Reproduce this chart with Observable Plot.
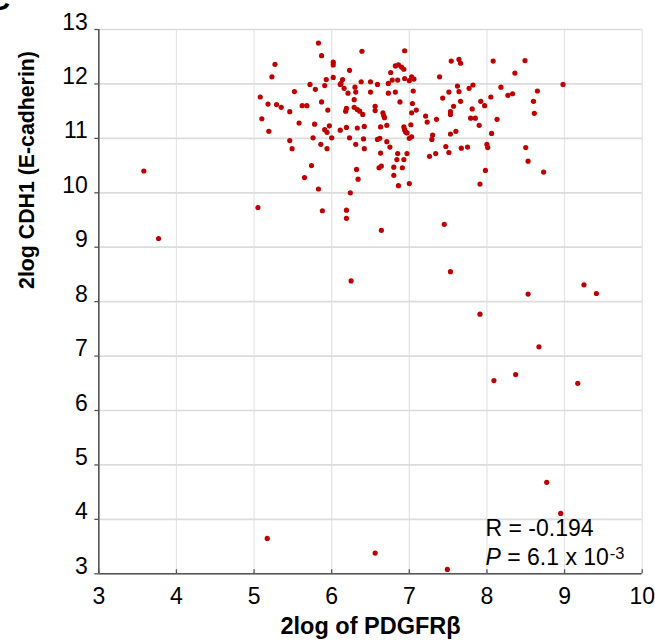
<!DOCTYPE html>
<html><head><meta charset="utf-8">
<script src="https://cdn.jsdelivr.net/npm/d3@7"></script>
<script src="https://cdn.jsdelivr.net/npm/@observablehq/plot@0.6"></script>
<style>
body{margin:0;background:#fff;}
#chart{width:655px;height:641px;overflow:hidden;}
</style></head><body>
<div id="chart"></div>
<script>
// PDGFRβ (x) and CDH1 (y), 2log values
const pdgfrb = [5.83,5.87,5.27,5.23,6.02,6.02,6.23,6.39,6.02,5.93,5.72,5.91,6.14,6.12,6.11,6.16,6.30,6.38,6.50,6.59,
5.79,5.52,6.21,6.31,6.50,5.08,6.29,5.87,5.18,5.29,5.35,5.62,5.68,5.95,5.46,6.19,6.18,6.29,6.33,6.36,
6.40,6.56,6.56,5.10,5.58,5.78,5.97,5.19,5.91,5.94,6.11,6.19,6.33,6.42,5.76,6.00,6.23,6.41,6.59,5.46,
5.49,5.86,5.94,6.31,6.42,5.74,5.65,6.32,6.34,5.83,6.24,6.61,6.63,6.94,6.82,6.86,6.90,6.93,6.76,6.73,
6.78,6.85,6.94,7.00,7.03,7.06,6.73,6.82,7.05,6.88,6.66,6.67,6.68,7.04,7.03,7.09,7.02,6.63,6.71,6.93,
6.94,6.95,6.97,7.00,7.03,6.62,6.71,6.75,6.85,6.97,6.84,6.93,6.64,6.80,6.91,6.80,6.86,7.00,7.21,7.23,
7.35,7.39,7.30,7.29,7.26,7.34,7.47,7.51,7.43,7.51,7.54,7.64,7.66,7.62,7.64,7.57,7.53,7.53,7.66,7.53,
7.60,7.77,7.82,7.81,7.79,7.85,7.90,7.92,7.97,7.67,7.75,8.00,8.01,7.98,7.91,8.08,8.05,8.06,8.13,8.18,
8.27,8.49,8.36,8.33,8.65,8.60,8.61,8.98,8.50,8.53,8.73,3.58,3.77,5.05,5.17,5.88,6.19,6.19,6.64,7.45,
6.25,7.53,8.53,9.25,9.41,7.91,8.67,8.37,8.09,9.17,8.77,8.95,6.56,7.49];
const cdh1 = [12.75,12.52,12.36,12.13,12.40,12.35,12.25,12.60,12.12,12.08,11.99,11.97,12.08,12.01,11.99,11.92,11.94,12.04,12.04,11.99,
11.90,11.86,11.83,11.85,11.85,11.76,11.71,11.67,11.63,11.62,11.57,11.60,11.60,11.52,11.49,11.55,11.50,11.57,11.53,11.50,
11.44,11.59,11.51,11.36,11.28,11.26,11.23,11.13,11.16,11.11,11.15,11.20,11.19,11.22,11.01,11.01,11.01,10.99,10.98,10.96,
10.81,10.89,10.81,10.89,10.81,10.50,10.28,10.43,10.25,10.07,10.00,10.46,10.73,12.61,12.33,12.35,12.31,12.27,12.21,12.01,
12.07,12.07,12.10,12.06,12.13,12.09,11.83,11.85,11.87,11.67,11.47,11.42,11.38,11.64,11.47,11.52,11.25,11.21,11.24,11.21,
11.16,11.12,11.10,11.00,11.03,11.00,10.94,10.84,10.72,10.72,10.61,10.61,10.49,10.47,10.46,10.32,10.13,10.17,11.41,11.30,
11.35,12.13,11.06,10.98,10.67,10.72,10.85,10.74,11.74,11.85,12.42,12.45,12.38,11.96,11.86,11.59,11.49,11.44,11.68,11.08,
11.13,11.92,11.98,11.54,11.37,11.37,11.24,11.68,11.60,10.82,10.84,10.89,10.83,10.41,10.16,12.42,11.76,11.09,11.35,11.94,
11.79,12.43,12.20,11.82,11.87,11.68,11.46,11.99,10.83,10.58,10.38,10.40,9.16,9.73,3.65,9.67,9.68,9.53,9.31,9.42,
8.38,8.55,8.14,8.31,8.15,7.77,7.17,6.66,6.55,6.50,4.68,4.11,3.38,3.08];

const xTicks = [3,4,5,6,7,8,9,10];
const yTicks = [3,4,5,6,7,8,9,10,11,12,13];
const xLabel = "2log of PDGFRβ";
const yLabel = "2log CDH1 (E-cadherin)";
const statR = "R = -0.194";
const statPSymbol = "P";
const statPValue = " = 6.1 x 10";
const statPExponent = "-3";
const panelLabel = "C";

const points = pdgfrb.map((x, i) => ({x, y: cdh1[i]}));

const W = 655, H = 641, mL = 98.3, mR = 13.3, mT = 29, mB = 67.7;
const fw = W - mL - mR, fh = H - mT - mB;
const font = '"Liberation Sans", Arial, Helvetica, sans-serif';

const chart = Plot.plot({
  width: W, height: H,
  marginLeft: mL, marginRight: mR, marginTop: mT, marginBottom: mB,
  x: {type: "linear", domain: [3, 10], axis: null},
  y: {type: "linear", domain: [3, 13], axis: null},
  style: {fontFamily: font, fontSize: "23px", background: "#fff", color: "#000", overflow: "visible"},
  marks: [
    Plot.ruleX(xTicks, {x: d => d, stroke: "#e4e4e4", strokeWidth: 1.2}),
    Plot.ruleY(yTicks, {y: d => d, stroke: "#dcdcdc", strokeWidth: 1.7}),
    Plot.ruleX(xTicks, {x: d => d, stroke: "#555", strokeWidth: 1.3, insetTop: fh - 4}),
    Plot.ruleY(yTicks, {y: d => d, stroke: "#555", strokeWidth: 1.3, insetLeft: -4, insetRight: fw}),
    Plot.ruleX([3], {x: d => d, stroke: "#555", strokeWidth: 1.6}),
    Plot.ruleY([3], {y: d => d, stroke: "#555", strokeWidth: 1.6}),
    Plot.dot(points, {x: "x", y: "y", r: 2.6, fill: "#c00000", stroke: "none"}),
    Plot.text(xTicks, {x: d => d, text: d => String(d), frameAnchor: "bottom", lineAnchor: "top", dy: 13.4, fontSize: 23, fill: "#000"}),
    Plot.text(yTicks, {y: d => d, text: d => String(d), frameAnchor: "left", textAnchor: "end", dx: -11, dy: -7.3, fontSize: 23, fill: "#000"}),
    Plot.text([xLabel], {text: d => d, frameAnchor: "bottom", lineAnchor: "bottom", dy: 60, fontSize: 23.5, fontWeight: "bold", fill: "#000"}),
    Plot.text([yLabel], {text: d => d, frameAnchor: "left", rotate: -90, lineAnchor: "bottom", dx: -65, dy: -12.7, fontSize: 21.3, fontWeight: "bold", fill: "#000"}),
    Plot.text([statR], {text: d => d, frameAnchor: "bottom-left", textAnchor: "start", lineAnchor: "bottom", dx: 386.7, dy: -38.3, fontSize: 23, fill: "#000"}),
    Plot.text([statPSymbol], {text: d => d, frameAnchor: "bottom-left", textAnchor: "start", lineAnchor: "bottom", dx: 386.7, dy: -9.3, fontSize: 23, fontStyle: "italic", fill: "#000"}),
    Plot.text([statPValue], {text: d => d, frameAnchor: "bottom-left", textAnchor: "start", lineAnchor: "bottom", dx: 402, dy: -9.3, fontSize: 23, fill: "#000"}),
    Plot.text([statPExponent], {text: d => d, frameAnchor: "bottom-left", textAnchor: "start", lineAnchor: "bottom", dx: 511, dy: -14.5, fontSize: 16.5, fill: "#000"}),
    Plot.text([panelLabel], {text: d => d, frameAnchor: "top-left", textAnchor: "start", lineAnchor: "bottom", dx: -mL - 12, dy: -mT + 9, fontSize: 30, fontWeight: "bold", fill: "#000"})
  ]
});
chart.style.whiteSpace = "pre";
document.getElementById("chart").appendChild(chart);
</script>
</body></html>
